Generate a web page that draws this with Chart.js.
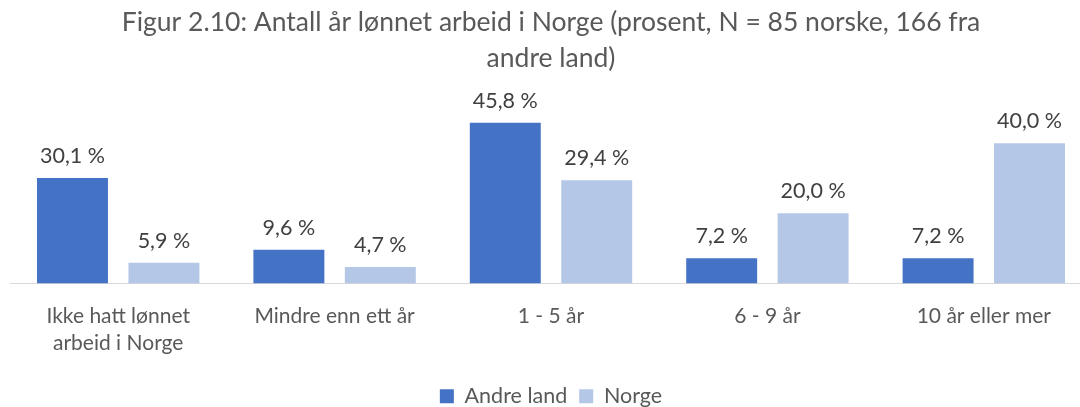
<!DOCTYPE html>
<html>
<head>
<meta charset="utf-8">
<script src="https://cdn.jsdelivr.net/npm/chart.js@4/dist/chart.umd.min.js"></script>
<style>
html,body{margin:0;padding:0;background:#fff;overflow:hidden;width:1080px;height:407px;}
#wrap{position:relative;width:1102px;height:407px;}
</style>
</head>
<body>
<div id="wrap"><canvas id="c"></canvas></div>
<script>
const categories = [["Ikke hatt lønnet", "arbeid i Norge"], "Mindre enn ett år", "1 - 5 år", "6 - 9 år", "10 år eller mer"];
const andreLand = [30.1, 9.6, 45.8, 7.2, 7.2];
const norge = [5.9, 4.7, 29.4, 20.0, 40.0];
const seriesNames = ["Andre land", "Norge"];
const titleLines = ["Figur 2.10: Antall år lønnet arbeid i Norge (prosent, N = 85 norske, 166 fra", "andre land)"];

const FONT = "Lato, 'Open Sans', sans-serif";

const labelPlugin = {
  id: 'barLabels',
  afterDatasetsDraw(chart) {
    const ctx = chart.ctx;
    ctx.save();
    ctx.font = "21.5px " + FONT;
    ctx.fillStyle = "#404040";
    ctx.textAlign = "center";
    ctx.textBaseline = "middle";
    chart.data.datasets.forEach((ds, i) => {
      const meta = chart.getDatasetMeta(i);
      meta.data.forEach((el, j) => {
        const v = ds.data[j];
        const txt = v.toFixed(1).replace('.', ',') + ' %';
        ctx.fillText(txt, el.x, el.y - 22);
      });
    });
    ctx.restore();
  }
};

new Chart(document.getElementById('c'), {
  type: 'bar',
  data: {
    labels: categories,
    datasets: [
      { label: seriesNames[0], data: andreLand, backgroundColor: '#4472C4', categoryPercentage: 0.845, barPercentage: 0.776 },
      { label: seriesNames[1], data: norge, backgroundColor: '#B4C7E7', categoryPercentage: 0.845, barPercentage: 0.776 }
    ]
  },
  options: {
    responsive: true,
    maintainAspectRatio: false,
    animation: false,
    layout: { padding: { left: 10, right: 10, top: 0, bottom: -10 } },
    scales: {
      x: {
        grid: { display: false, drawTicks: false },
        border: { display: true, color: '#D9D9D9', width: 1 },
        ticks: { color: '#595959', font: { family: FONT, size: 21, lineHeight: 1.3 }, padding: 19, maxRotation: 0, autoSkip: false },
        afterFit(scale) { scale.height = 90; }
      },
      y: {
        display: false,
        min: 0,
        max: 50
      }
    },
    plugins: {
      title: {
        display: true,
        text: titleLines,
        color: '#595959',
        font: { family: FONT, size: 26.5, weight: 'normal', lineHeight: 1.36 },
        padding: { top: 4, bottom: 32 }
      },
      legend: {
        position: 'bottom',
        labels: { color: '#595959', font: { family: FONT, size: 21.5 }, boxWidth: 14, boxHeight: 14, padding: 12 }
      },
      tooltip: { enabled: false }
    }
  },
  plugins: [labelPlugin]
});
</script>
</body>
</html>
